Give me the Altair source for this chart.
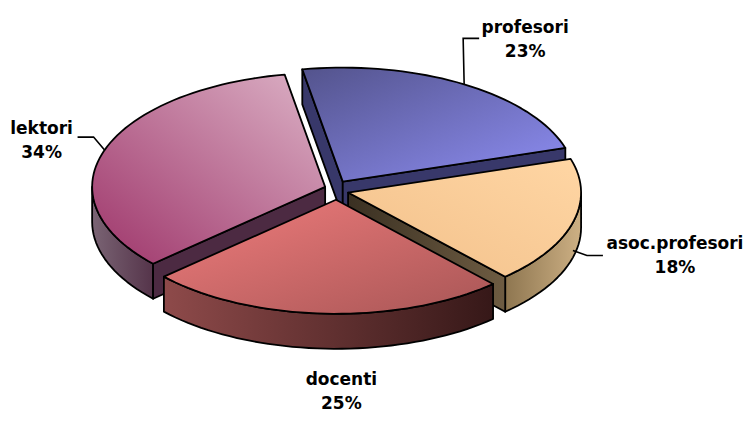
import numpy as np
import pandas as pd
import altair as alt

# ---------------- data ----------------
categories = ["profesori", "asoc.profesori", "docenti", "lektori"]
shares = [23, 18, 25, 34]

# ---------------- layout / style (not data) ----------------
W, H = 738, 405                 # plot area in px
CX_PX, CY_PX = 328.5, 182.0     # pie centre inside the plot area
A_PX, B_PX = 233.0, 114.0       # ellipse semi axes (perspective view)
START_DEG = -10.0               # first slice start, clockwise from the top
EXPLODE_PX = (12.0, 9.8)
DEPTH_PX = 35.0
N_ARC = 90
DRAW_ORDER = ["profesori", "lektori", "asoc.profesori", "docenti"]

FONT = "DejaVu Sans"
FONT_SIZE = 17
LINE_GAP = 24

# label placement relative to the rim point at the slice's mid angle (px)
LABEL_OFFSET = {
    "profesori": (61, -51),
    "lektori": (-63, -16),
    "asoc.profesori": (102, 27),
    "docenti": (16, 71),
}
LEADER_END = {
    "profesori": (15, -46),
    "lektori": (-27, -13),
    "asoc.profesori": (30, 33),
}
LEADER_START_DROP = {"asoc.profesori": 28}


def lin(c0, c1, x1=0, y1=0, x2=1, y2=1):
    return {"gradient": "linear", "x1": x1, "y1": y1, "x2": x2, "y2": y2,
            "stops": [{"offset": 0, "color": c0}, {"offset": 1, "color": c1}]}


TOP_FILL = {
    "profesori": lin("#53538c", "#8e8ef4", 0, 0, 1, 1),
    "asoc.profesori": lin("#ffd6a4", "#f2c08a", 1, 0, 0, 1),
    "docenti": lin("#f07c7c", "#a85656", 0, 0, 1, 1),
    "lektori": lin("#9e356a", "#dcb2c6", 0, 1, 1, 0),
}
WALL_FILL = {
    "asoc.profesori": lin("#cdb084", "#8e7650", 1, 0, 0, 0),
    "docenti": lin("#8e4a4a", "#361818", 0, 0, 1, 0),
    "lektori": lin("#7a6474", "#55344a", 0, 0, 1, 0),
}
FACE_FILL = {
    "profesori": "#38386a",
    "asoc.profesori": lin("#3a3022", "#6e5c42", 0, 0, 1, 0),
    "lektori": "#4c2a42",
}

# ---------------- geometry derived from the shares ----------------
XMIN, XMAX = -CX_PX / A_PX, (W - CX_PX) / A_PX
YMAX, YMIN = CY_PX / B_PX, -(H - CY_PX) / B_PX
EX, EY = EXPLODE_PX[0] / A_PX, EXPLODE_PX[1] / B_PX
D = DEPTH_PX / B_PX
rad = np.radians
total = float(sum(shares))

rows, label_rows, leader_rows = [], [], []


def rim(phi, ox, oy, dz=0.0):
    t = rad(phi)
    return (ox + np.sin(t), oy + np.cos(t) - dz)


def add(cat, part, pts):
    for k, (x, y) in enumerate(pts):
        rows.append({"cat": cat, "part": part, "i": k, "x": x, "y": y})


acc = 0.0
for cat, v in zip(categories, shares):
    a0 = START_DEG + 360.0 * acc / total
    acc += v
    a1 = START_DEG + 360.0 * acc / total
    m = (a0 + a1) / 2.0
    ox, oy = EX * np.sin(rad(m)), EY * np.cos(rad(m))
    apex = (ox, oy)
    n = max(10, int(N_ARC * (a1 - a0) / 180.0))
    arc = [rim(p, ox, oy) for p in np.linspace(a0, a1, n)]
    add(cat, "top", [apex] + arc + [apex])
    # radial faces that face the viewer
    for name, a, normal in (("face0", a0, a0 - 90), ("face1", a1, a1 + 90)):
        if np.cos(rad(normal)) < 0:
            add(cat, name, [apex, rim(a, ox, oy), rim(a, ox, oy, D), (ox, oy - D), apex])
    # outer wall (front half only)
    lo, hi = max(a0, 90.0), min(a1, 270.0)
    if lo < hi:
        ph = np.linspace(lo, hi, max(10, int(N_ARC * (hi - lo) / 180.0)))
        pts = [rim(p, ox, oy) for p in ph] + [rim(p, ox, oy, D) for p in ph[::-1]]
        pts.append(pts[0])
        add(cat, "wall", pts)
    # labels
    rx, ry = rim(m, ox, oy)
    dx, dy = LABEL_OFFSET[cat]
    pct = round(100.0 * v / total)
    label_rows.append({"cat": cat, "x": rx + dx / A_PX, "y": ry - dy / B_PX,
                       "name": cat, "pct": f"{pct}%"})
    if cat in LEADER_END:
        sx, sy = rx, ry - LEADER_START_DROP.get(cat, 0) / B_PX
        ex_, ey_ = LEADER_END[cat]
        endx, endy = rx + ex_ / A_PX, ry - ey_ / B_PX
        sign = 1 if ex_ > 0 else -1
        elbx = endx - sign * 16.0 / A_PX
        for k, (x, y) in enumerate([(sx, sy), (elbx, endy), (endx, endy)]):
            leader_rows.append({"cat": cat, "i": k, "x": x, "y": y})

geom = pd.DataFrame(rows)
labels = pd.DataFrame(label_rows)
leaders = pd.DataFrame(leader_rows)

X = alt.X("x:Q", scale=alt.Scale(domain=[XMIN, XMAX], nice=False, zero=False), axis=None)
Y = alt.Y("y:Q", scale=alt.Scale(domain=[YMIN, YMAX], nice=False, zero=False), axis=None)


def poly(cat, parts, fill):
    sub = geom[(geom.cat == cat) & (geom.part.isin(parts))]
    if sub.empty:
        return None
    return alt.Chart(sub).mark_line(
        fill=fill, stroke="black", strokeWidth=1.8, strokeJoin="round", strokeCap="round"
    ).encode(x=X, y=Y, order=alt.Order("i:Q"), detail=alt.Detail("part:N"))


layers = []
for cat in DRAW_ORDER:
    for lay in (
        poly(cat, ["wall"], WALL_FILL.get(cat, "#555555")),
        poly(cat, ["face0", "face1"], FACE_FILL.get(cat, "#333333")),
        poly(cat, ["top"], TOP_FILL[cat]),
    ):
        if lay is not None:
            layers.append(lay)

leader_layer = alt.Chart(leaders).mark_line(
    stroke="black", strokeWidth=1.6, strokeJoin="miter"
).encode(x=X, y=Y, order=alt.Order("i:Q"), detail=alt.Detail("cat:N"))

name_layer = alt.Chart(labels).mark_text(
    font=FONT, fontSize=FONT_SIZE, fontWeight="bold", color="black",
    align="center", baseline="alphabetic"
).encode(x=X, y=Y, text="name:N")

pct_layer = alt.Chart(labels).mark_text(
    font=FONT, fontSize=FONT_SIZE, fontWeight="bold", color="black",
    align="center", baseline="alphabetic", dy=LINE_GAP
).encode(x=X, y=Y, text="pct:N")

chart = alt.layer(*layers, leader_layer, name_layer, pct_layer).properties(
    width=W, height=H, padding=0, autosize="none", background="white"
).configure_view(stroke=None)

chart.save("out.html", embed_options={"renderer": "svg", "actions": False})
